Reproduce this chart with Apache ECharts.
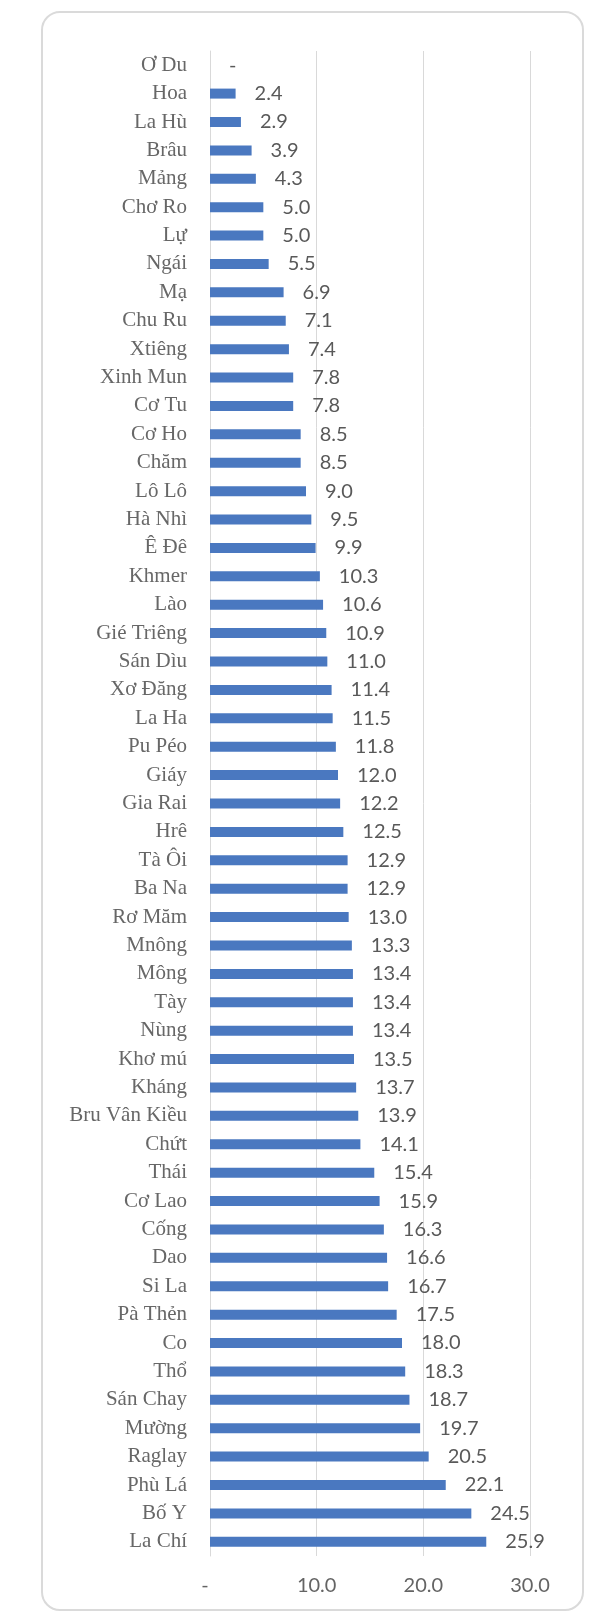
<!DOCTYPE html>
<html>
<head>
<meta charset="utf-8">
<script src="https://cdn.jsdelivr.net/npm/echarts@6/dist/echarts.min.js"></script>
<style>
  html, body { margin: 0; padding: 0; background: #ffffff; }
  #chart { width: 589px; height: 1613px; }
</style>
</head>
<body>
<div id="chart"></div>
<script>
// dân tộc, từ trên xuống dưới
var categories = [
  'Ơ Du', 'Hoa', 'La Hù', 'Brâu', 'Mảng', 'Chơ Ro', 'Lự', 'Ngái', 'Mạ', 'Chu Ru',
  'Xtiêng', 'Xinh Mun', 'Cơ Tu', 'Cơ Ho', 'Chăm', 'Lô Lô', 'Hà Nhì', 'Ê Đê', 'Khmer', 'Lào',
  'Gié Triêng', 'Sán Dìu', 'Xơ Đăng', 'La Ha', 'Pu Péo', 'Giáy', 'Gia Rai', 'Hrê', 'Tà Ôi', 'Ba Na',
  'Rơ Măm', 'Mnông', 'Mông', 'Tày', 'Nùng', 'Khơ mú', 'Kháng', 'Bru Vân Kiều', 'Chứt', 'Thái',
  'Cơ Lao', 'Cống', 'Dao', 'Si La', 'Pà Thẻn', 'Co', 'Thổ', 'Sán Chay', 'Mường', 'Raglay',
  'Phù Lá', 'Bố Y', 'La Chí'
];
var values = [
  0, 2.4, 2.9, 3.9, 4.3, 5.0, 5.0, 5.5, 6.9, 7.1,
  7.4, 7.8, 7.8, 8.5, 8.5, 9.0, 9.5, 9.9, 10.3, 10.6,
  10.9, 11.0, 11.4, 11.5, 11.8, 12.0, 12.2, 12.5, 12.9, 12.9,
  13.0, 13.3, 13.4, 13.4, 13.4, 13.5, 13.7, 13.9, 14.1, 15.4,
  15.9, 16.3, 16.6, 16.7, 17.5, 18.0, 18.3, 18.7, 19.7, 20.5,
  22.1, 24.5, 25.9
];
var xTicks = { min: 0, max: 30, interval: 10 };

function fmt(v) {
  return v === 0 ? '-' : v.toFixed(1);
}

var myChart = echarts.init(document.getElementById('chart'));

myChart.setOption({
  animation: false,
  backgroundColor: '#ffffff',
  // khung bo góc
  graphic: [{
    type: 'rect',
    shape: { x: 42, y: 12, width: 541, height: 1598, r: 18 },
    style: { fill: 'none', stroke: '#dadada', lineWidth: 2 },
    silent: true
  }],
  grid: {
    left: 210,
    right: 59,
    top: 51,
    bottom: 57,
    containLabel: false
  },
  xAxis: {
    type: 'value',
    min: xTicks.min,
    max: xTicks.max,
    interval: xTicks.interval,
    axisLine: { show: false },
    axisTick: { show: false },
    splitLine: { lineStyle: { color: '#d9d9d9', width: 1 } },
    axisLabel: {
      margin: 20,
      fontSize: 20,
      fontFamily: 'Lato',
      color: '#646464',
      formatter: function (v) { return v === 0 ? '-  ' : v.toFixed(1); }
    }
  },
  yAxis: {
    type: 'category',
    inverse: true,
    data: categories,
    axisTick: { show: false },
    axisLine: { show: true, lineStyle: { color: '#d9d9d9', width: 1 } },
    axisLabel: {
      margin: 23,
      fontSize: 21,
      fontFamily: 'Liberation Serif',
      color: '#676767'
    }
  },
  series: [{
    type: 'bar',
    data: values,
    barWidth: 10,
    itemStyle: { color: '#4a78c0' },
    label: {
      show: true,
      position: 'right',
      distance: 19,
      fontSize: 20,
      fontFamily: 'Lato',
      color: '#595959',
      formatter: function (p) { return fmt(p.value); }
    }
  }]
});
</script>
</body>
</html>
